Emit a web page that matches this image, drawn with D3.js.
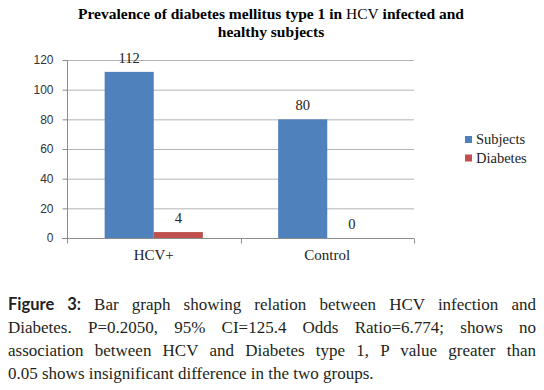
<!DOCTYPE html>
<html>
<head>
<meta charset="utf-8">
<script src="https://cdn.jsdelivr.net/npm/d3@7"></script>
<style>
  body { margin: 0; background: #fff; }
  #chart { display: block; }
  .caption {
    position: absolute; left: 8px; top: 293px; width: 528px;
    font-family: 'Liberation Serif', serif; font-size: 17px; line-height: 23px;
    color: #231f20;
  }
  .caption div { text-align: justify; text-align-last: justify; white-space: nowrap; }
  .caption div.last { text-align-last: left; }
  .caption b { font-family: 'Lato', sans-serif; font-weight: 700; font-size: 16.5px; }
</style>
</head>
<body>
<svg id="chart" width="544" height="290"></svg>
<div class="caption">
  <div><b>Figure 3:</b> Bar graph showing relation between HCV infection and</div>
  <div>Diabetes. P=0.2050, 95% CI=125.4 Odds Ratio=6.774; shows no</div>
  <div>association between HCV and Diabetes type 1, P value greater than</div>
  <div class="last">0.05 shows insignificant difference in the two groups.</div>
</div>
<script>
var categories = ["HCV+", "Control"];
var seriesNames = ["Subjects", "Diabetes"];
var subjects = [112, 80];
var diabetes = [4, 0];
var yTicks = [0, 20, 40, 60, 80, 100, 120];
var colors = ["#4F81BD", "#C0504D"];

var serif = "'Liberation Serif', 'Times New Roman', serif";

var svg = d3.select("#chart"),
  margin = {top: 60, left: 67, right: 130, bottom: 52},
  width = +svg.attr("width") - margin.left - margin.right,
  height = 238 - margin.top;

var data = categories.map(function(c, i) {
  return {cat: c, values: [subjects[i], diabetes[i]]};
});

var x0 = d3.scaleBand().domain(categories).range([0, width])
  .paddingInner(0.434).paddingOuter(0.217);
var x1 = d3.scaleBand().domain(seriesNames).range([0, x0.bandwidth()]);
var y = d3.scaleLinear().domain([0, 120]).range([height, 0]);

// title (HCV is not bold in the original)
var title = svg.append("text")
  .attr("x", 271).attr("y", 19)
  .attr("text-anchor", "middle")
  .style("font-family", serif)
  .style("font-size", "15.5px")
  .style("font-weight", "bold")
  .attr("fill", "#000");
title.append("tspan").text("Prevalence of diabetes mellitus type 1 in  ");
title.append("tspan").style("font-weight", "normal").text("HCV");
title.append("tspan").text(" infected and");
svg.append("text")
  .attr("x", 271).attr("y", 37)
  .attr("text-anchor", "middle")
  .style("font-family", serif)
  .style("font-size", "15.5px")
  .style("font-weight", "bold")
  .text("healthy subjects");

var g = svg.append("g")
  .attr("transform", "translate(" + margin.left + "," + margin.top + ")");

// gridlines
g.append("g").selectAll("line")
  .data(yTicks.slice(1))
  .enter().append("line")
  .attr("x1", 0).attr("x2", width)
  .attr("y1", d => y(d) + 0.5).attr("y2", d => y(d) + 0.5)
  .attr("stroke", "#b3b3b3");

// y axis
var yAxis = g.append("g")
  .attr("transform", "translate(0.5,0)")
  .call(d3.axisLeft(y).tickValues(yTicks).tickSize(5).tickPadding(9));
yAxis.select(".domain").attr("stroke", "#8c8c8c").attr("d", "M0," + y(120) + "V" + height);
yAxis.selectAll(".tick line").attr("stroke", "#8c8c8c");
yAxis.selectAll(".tick text")
  .style("font-family", "'Liberation Sans', Arial, sans-serif")
  .style("font-size", "12px")
  .attr("fill", "#333");

// x axis
var xAxis = g.append("g")
  .attr("transform", "translate(0," + (height + 0.5) + ")")
  .call(d3.axisBottom(x0).tickSize(0).tickPadding(11));
xAxis.select(".domain").attr("stroke", "#8c8c8c").attr("d", "M-5,0H" + width);
xAxis.selectAll(".tick text")
  .style("font-family", serif)
  .style("font-size", "15px")
  .attr("fill", "#222");
xAxis.append("g").selectAll("line")
  .data([0, x0.step(), width])
  .enter().append("line")
  .attr("x1", d => Math.round(d) + 0.5).attr("x2", d => Math.round(d) + 0.5)
  .attr("y1", 0).attr("y2", 5)
  .attr("stroke", "#8c8c8c");

// bars
var groups = g.selectAll(".grp")
  .data(data)
  .enter().append("g")
  .attr("class", "grp")
  .attr("transform", d => "translate(" + x0(d.cat) + ",0)");

groups.selectAll("rect")
  .data(d => d.values.map((v, i) => ({key: seriesNames[i], v: v, i: i})))
  .enter().append("rect")
  .attr("x", d => x1(d.key))
  .attr("width", x1.bandwidth())
  .attr("y", d => y(d.v))
  .attr("height", d => height - y(d.v))
  .attr("fill", d => colors[d.i]);

groups.selectAll(".lbl")
  .data(d => d.values.map((v, i) => ({key: seriesNames[i], v: v})))
  .enter().append("text")
  .attr("class", "lbl")
  .attr("x", d => x1(d.key) + x1.bandwidth() / 2)
  .attr("y", d => y(d.v) - 9)
  .attr("text-anchor", "middle")
  .style("font-family", serif)
  .style("font-size", "14.5px")
  .attr("fill", "#222")
  .text(d => d.v);

// legend
var legend = svg.append("g").attr("transform", "translate(465,136)");
var li = legend.selectAll("g")
  .data(seriesNames)
  .enter().append("g")
  .attr("transform", (d, i) => "translate(0," + i * 18.5 + ")");
li.append("rect").attr("width", 7).attr("height", 7)
  .attr("fill", (d, i) => colors[i]);
li.append("text")
  .attr("x", 11).attr("y", 8)
  .style("font-family", serif)
  .style("font-size", "14.5px")
  .attr("fill", "#222")
  .text(d => d);
</script>
</body>
</html>
